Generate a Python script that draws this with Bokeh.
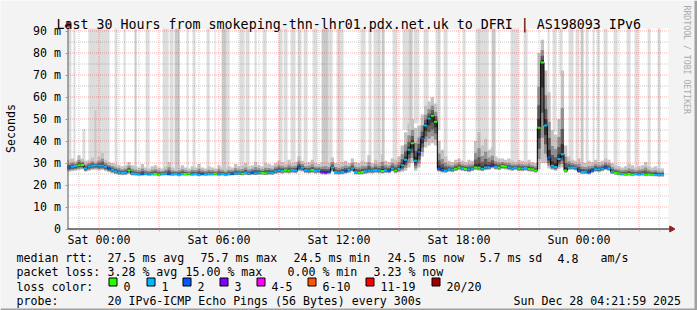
import math
from bokeh.plotting import figure
from bokeh.models import FixedTicker, Label
from bokeh.embed import file_html
from bokeh.resources import INLINE

# ---------------- data ----------------
START_H = -1.5          # first sample, hours relative to Sat 00:00
STEP_H = 1.0 / 6.0      # 10-minute samples

median_ms = [
    28.0, 28.3, 28.6, 29.0, 29.1, 27.6, 28.4, 28.8, 29.0, 28.7, 28.9, 28.3, 27.5, 26.9, 26.3, 25.8, 25.5, 25.7, 26.6, 25.3,
    25.0, 24.9, 25.0, 25.1, 24.9, 25.0, 25.0, 24.8, 25.0, 25.1, 25.0, 24.9, 25.0, 24.8, 25.0, 25.0, 25.1, 24.9, 25.0, 24.8,
    25.0, 24.9, 25.0, 25.0, 25.1, 24.9, 25.0, 24.8, 25.0, 25.1,
    25.2, 25.3, 25.1, 25.4, 25.2, 25.5, 25.3, 25.6, 25.4, 25.3, 25.6, 25.5,
    26.2, 26.6, 26.4, 26.7, 26.5, 26.8, 26.6, 28.0, 27.8, 26.7, 26.5, 26.8, 26.4, 26.6, 25.9, 25.7, 26.0, 28.0, 25.9, 25.7,
    25.9, 26.3, 26.9, 27.6, 25.9, 25.7, 25.9, 26.2, 26.6, 26.5, 26.8, 26.6, 26.4, 26.7, 26.6, 27.5, 26.6,
    27.3, 29.0, 31.5, 36.0, 39.0, 31.0, 35.0, 41.0, 47.0, 50.2, 51.5, 48.8, 27.4,
    26.8, 26.6, 27.2, 26.9, 27.4, 28.0, 27.6, 27.3, 27.0, 27.5, 28.0, 27.8, 27.4, 27.9, 28.1, 28.8, 28.2, 28.0, 28.6, 28.4,
    27.9, 27.6, 28.0, 27.5, 27.4, 27.7, 27.3, 27.2, 26.6,
    46.0, 75.7, 47.0, 32.5, 28.8, 28.2, 31.8, 34.0, 26.6,
    28.0, 28.1, 27.8, 26.5, 25.9, 26.0, 25.8, 26.6, 27.2, 27.0, 27.4, 28.0, 27.6, 26.0, 25.5, 25.2, 25.0, 24.9, 25.0, 24.8,
    25.0, 24.9, 25.0, 24.8, 24.9, 24.7, 24.6, 24.5, 24.5,
]

loss_count = [
    2, 1, 1, 0, 0, 1, 1, 1, 1, 1, 1, 1, 2, 1, 1, 1, 1, 1, 0, 1,
    1, 1, 2, 1, 1, 1, 0, 0, 1, 1, 2, 1, 1, 1, 1, 0, 0, 1, 1, 1, 2, 1, 1, 1, 0, 1, 1, 1, 1, 2,
    1, 1, 0, 1, 1, 2, 1, 1, 0, 0, 1, 1,
    1, 1, 1, 0, 0, 1, 1, 2, 1, 1, 1, 0, 1, 1, 3, 3, 2, 1, 1, 1, 1, 2, 1, 1, 1, 0, 0, 1, 1, 1, 1, 1, 0, 1, 2, 1, 0,
    1, 1, 1, 1, 0, 1, 2, 2, 1, 1, 0, 0, 2,
    2, 1, 1, 1, 0, 0, 1, 0, 1, 1, 0, 0, 1, 1, 1, 3, 1, 0, 0, 0, 1, 1, 1, 0, 1, 1, 0, 0, 0,
    0, 0, 1, 2, 1, 1, 1, 1, 0,
    1, 1, 1, 2, 1, 1, 2, 2, 1, 1, 1, 2, 1, 1, 0, 0, 1, 0, 0, 0, 1, 1, 1, 0, 0, 0, 1, 1, 1,
]

smoke_high = [
    31.5, 32.0, 31.0, 33.5, 32.0, 31.0, 31.5, 32.5, 31.0, 33.0, 34.5, 31.5, 30.5, 30.0, 29.5, 29.0, 28.5, 29.0, 30.5, 29.0,
    28.5, 28.0, 29.5, 28.0, 27.5, 28.5, 29.0, 28.0, 27.5, 28.5, 30.5, 28.0, 27.5, 28.0, 29.0, 28.0, 27.5, 28.5, 28.0, 29.5,
    28.0, 27.5, 28.5, 28.0, 27.5, 29.0, 28.0, 27.5, 28.5, 28.0,
    29.5, 28.5, 29.0, 30.0, 28.5, 29.0, 30.5, 29.0, 28.5, 30.0, 29.5, 29.0,
    30.0, 31.0, 30.5, 29.5, 31.5, 30.0, 30.5, 33.0, 31.0, 30.0, 30.5, 31.5, 30.0, 29.5, 30.5, 31.0, 30.0, 32.5, 30.0, 29.5,
    30.5, 31.0, 30.0, 32.0, 30.5, 30.0, 31.0, 30.5, 33.5, 30.0, 31.5, 30.5, 34.0, 31.0, 30.5, 32.0, 31.5,
    33.0, 38.0, 44.0, 48.0, 50.0, 46.0, 47.0, 52.0, 56.0, 58.0, 60.0, 57.0, 40.0,
    36.0, 33.0, 31.0, 30.5, 31.5, 32.0, 31.0, 30.5, 31.5, 31.0, 40.0, 44.0, 38.0, 41.0, 36.0, 37.0, 33.0, 32.0, 32.0, 31.5,
    32.0, 31.0, 30.5, 31.5, 31.0, 30.5, 31.5, 30.5, 30.0,
    80.0, 86.0, 72.0, 62.0, 45.0, 43.0, 50.0, 72.0, 38.0,
    33.0, 31.5, 31.0, 32.0, 30.5, 30.0, 31.0, 30.5, 31.5, 30.5, 31.0, 32.0, 31.5, 30.0, 29.0, 28.5, 28.0, 28.5, 29.5, 29.0,
    28.0, 28.5, 29.0, 30.5, 28.5, 28.0, 28.5, 27.5, 27.5,
]

smoke_low = [
    26.0, 26.3, 26.5, 26.8, 27.0, 26.0, 26.4, 26.8, 27.0, 26.6, 26.8, 26.3, 25.8, 25.3, 24.9, 24.6, 24.4, 24.5, 25.0, 24.3,
    24.2, 24.1, 24.2, 24.3, 24.1, 24.2, 24.2, 24.0, 24.2, 24.3, 24.2, 24.1, 24.2, 24.0, 24.2, 24.2, 24.3, 24.1, 24.2, 24.0,
    24.2, 24.1, 24.2, 24.2, 24.3, 24.1, 24.2, 24.0, 24.2, 24.3,
    24.4, 24.5, 24.3, 24.6, 24.4, 24.6, 24.5, 24.7, 24.6, 24.5, 24.7, 24.6,
    25.0, 25.3, 25.1, 25.4, 25.2, 25.5, 25.3, 26.2, 26.0, 25.4, 25.2, 25.5, 25.1, 25.3, 24.8, 24.7, 24.9, 26.0, 24.8, 24.7,
    24.8, 25.1, 25.5, 26.0, 24.8, 24.7, 24.8, 25.0, 25.3, 25.2, 25.5, 25.3, 25.1, 25.4, 25.3, 26.0, 25.3,
    25.8, 26.0, 26.5, 28.0, 30.0, 26.5, 28.0, 33.0, 37.0, 38.0, 39.0, 38.0, 26.0,
    25.6, 25.5, 26.0, 25.8, 26.2, 26.8, 26.4, 26.1, 25.8, 26.3, 26.8, 26.6, 26.2, 26.7, 26.9, 27.5, 27.0, 26.8, 27.3, 27.1,
    26.7, 26.4, 26.8, 26.3, 26.2, 26.5, 26.1, 26.0, 25.6,
    27.0, 30.0, 30.0, 27.5, 26.8, 26.5, 27.5, 28.0, 25.6,
    26.8, 26.9, 26.6, 25.5, 24.9, 25.0, 24.8, 25.5, 26.0, 25.8, 26.2, 26.8, 26.4, 25.0, 24.6, 24.3, 24.2, 24.1, 24.2, 24.0,
    24.2, 24.1, 24.2, 24.0, 24.1, 24.0, 23.9, 23.8, 23.8,
]

# columns of pings above the graph (hours relative to Sat 00:00)
offscale_start_h = [-1.53, -1.28, -0.53, -0.83, -0.23, 0.78, 1.23, 1.78, 2.33, 3.18, 3.53, 3.78, 4.38, 4.68, 5.38, 5.78,
                    6.13, 6.38, 7.03, 7.33, 7.78, 8.18, 8.98, 9.23, 9.58, 9.93, 10.23, 10.68, 11.13, 11.48, 11.88,
                    13.08, 13.48, 13.73, 14.13, 14.68, 15.18, 15.48, 15.73, 16.23, 16.83, 17.23, 18.18, 18.83, 19.63,
                    20.58, 21.23, 22.43, 22.68, 23.03, 23.48, 23.83, 24.08, 24.33, 24.68, 24.88, 25.23, 25.73, 26.38,
                    26.78, 27.43, 27.93]
offscale_end_h = [-1.38, -1.18, 0.53, -0.68, -0.13, 0.93, 1.33, 1.88, 2.53, 3.48, 3.73, 4.03, 4.48, 4.83, 5.53, 5.83,
                  6.38, 6.53, 7.28, 7.53, 7.88, 8.38, 9.18, 9.43, 9.83, 10.13, 10.43, 10.93, 11.48, 11.68, 12.23,
                  13.33, 13.63, 14.08, 14.28, 14.93, 15.48, 15.68, 15.98, 16.48, 17.08, 17.43, 18.33, 19.48, 19.83,
                  20.98, 21.43, 22.53, 22.88, 23.18, 23.73, 23.98, 24.23, 24.48, 24.78, 25.03, 25.43, 25.93, 26.58,
                  26.98, 27.58, 28.08]
offscale_dark = [0, 0, 0, 0, 1, 0, 0, 1, 0, 0, 0, 1, 0, 0, 0, 0,
                 1, 0, 0, 0, 0, 0, 0, 0, 0, 0, 0, 0, 1, 0, 0,
                 0, 0, 0, 1, 0, 0, 1, 0, 0, 0, 0, 0, 0, 1,
                 0, 0, 0, 0, 0, 0, 0, 1, 0, 0, 0, 0, 0, 0,
                 0, 0, 0]
offscale_from_ms = [27, 27, 27, 27, 27, 27, 27, 27, 27, 27, 27, 27, 27, 27, 27, 27,
                    27, 27, 27, 27, 27, 27, 27, 27, 27, 27, 27, 27, 27, 27, 27,
                    27, 27, 27, 27, 27, 45, 47, 48, 55, 45, 30, 27, 28, 28,
                    28, 28, 60, 44, 70, 28, 28, 28, 28, 28, 28, 28, 27, 27,
                    27, 27, 27]
offscale_to_ms = [999, 999, 999, 45.5, 54, 999, 999, 999, 999, 999, 999, 999, 999, 999, 999, 999,
                  999, 999, 999, 999, 999, 999, 999, 999, 999, 999, 999, 999, 999, 999, 999,
                  999, 999, 999, 999, 999, 999, 999, 999, 999, 999, 999, 999, 999, 999,
                  999, 999, 999, 999, 999, 999, 999, 999, 999, 999, 999, 999, 999, 999,
                  999, 999, 999]

loss_labels = ["0", "1", "2", "3", "4-5", "6-10", "11-19", "20/20"]
loss_colors = ["#26ff00", "#00b8ff", "#0059ff", "#7e00ff", "#ff00ff", "#ff5500", "#ff0000", "#a10000"]

x_tick_hours = [0, 6, 12, 18, 24]
x_tick_labels = ["Sat 00:00", "Sat 06:00", "Sat 12:00", "Sat 18:00", "Sun 00:00"]
y_tick_values = [0, 10, 20, 30, 40, 50, 60, 70, 80, 90]
y_tick_labels = ["0", "10 m", "20 m", "30 m", "40 m", "50 m", "60 m", "70 m", "80 m", "90 m"]

title_text = "Last 30 Hours from smokeping-thn-lhr01.pdx.net.uk to DFRI | AS198093 IPv6"
rtt_texts = ["median rtt:", "27.5 ms avg", "75.7 ms max", "24.5 ms min", "24.5 ms now", "5.7 ms sd", "4.8", "am/s"]
loss_texts = ["packet loss:", "3.28 % avg", "15.00 % max", "0.00 % min", "3.23 % now"]
probe_texts = ["probe:", "20 IPv6-ICMP Echo Pings (56 Bytes) every 300s", "Sun Dec 28 04:21:59 2025"]

n = len(median_ms)
assert len(loss_count) == n and len(smoke_high) == n and len(smoke_low) == n

# ---------------- layout helpers (pixel -> data) ----------------
PX0, PXH = 98.5, 20.0     # x pixel of Sat 00:00, pixels per hour
PY0, PYM = 228.5, 2.2     # y pixel of 0 ms, pixels per ms


def X(px):
    return (px - PX0) / PXH


def Y(py):
    return (PY0 - py) / PYM


MONO = "DejaVu Sans Mono"
FS = "11.6px"
GRAPH_TOP = Y(28)
GRAPH_LEFT = X(67)
GRAPH_RIGHT = X(668)

# the frame covers the whole 697x310 canvas; axes are pinned with fixed_location
p = figure(width=697, height=310, title=None,
           x_range=(X(0), X(697)), y_range=(Y(310), Y(0)),
           output_backend="svg", toolbar_location=None,
           min_border_left=0, min_border_right=0, min_border_top=0, min_border_bottom=0)
p.background_fill_color = "#f3f3f3"
p.border_fill_color = "#f3f3f3"
p.outline_line_color = None
p.xgrid.grid_line_color = None
p.ygrid.grid_line_color = None

# image border shade (right / bottom)
p.quad(left=[X(694), X(0)], right=[X(697), X(697)], bottom=[Y(310), Y(310)], top=[Y(0), Y(308)],
       fill_color="#a0a0a0", line_color=None)

# white canvas
p.quad(left=[GRAPH_LEFT], right=[GRAPH_RIGHT], bottom=[0], top=[GRAPH_TOP],
       fill_color="#ffffff", line_color=None)

# off-scale ping columns
p.quad(left=offscale_start_h, right=offscale_end_h,
       bottom=offscale_from_ms, top=[min(t, GRAPH_TOP) for t in offscale_to_ms],
       fill_color=["#c9c9c9" if d else "#dddddd" for d in offscale_dark], line_color=None)

# smoke
times = [START_H + i * STEP_H for i in range(n)]
lefts = [t - STEP_H / 2 for t in times]
rights = [t + STEP_H / 2 for t in times]
layers = [(1.0, 1.0, "#c4c4c4"), (0.75, 0.55, "#929292"), (0.5, 0.3, "#5e5e5e"), (0.25, 0.12, "#333333")]
for fdown, fup, col in layers:
    bot = [m - fdown * (m - lo) for m, lo in zip(median_ms, smoke_low)]
    top = [min(m + fup * (hi - m), GRAPH_TOP) for m, hi in zip(median_ms, smoke_high)]
    p.quad(left=lefts, right=rights, bottom=bot, top=top, fill_color=col, line_color=None)

# grid
vx_minor = [h for h in range(-1, 29) if h % 3 != 0]
vx_major = [h for h in range(-1, 29) if h % 3 == 0]
p.segment(x0=vx_minor, x1=vx_minor, y0=[0] * len(vx_minor), y1=[GRAPH_TOP] * len(vx_minor),
          line_color="#000000", line_alpha=0.2, line_width=1, line_dash="1 1")
p.segment(x0=vx_major, x1=vx_major, y0=[0] * len(vx_major), y1=[GRAPH_TOP] * len(vx_major),
          line_color="#ff0000", line_alpha=0.33, line_width=1, line_dash="1 1")
hy_minor = [v for v in range(5, 91, 10)]
hy_major = [v for v in range(10, 91, 10)]
p.segment(x0=[X(67.5)] * len(hy_minor), x1=[GRAPH_RIGHT] * len(hy_minor), y0=hy_minor, y1=hy_minor,
          line_color="#000000", line_alpha=0.2, line_width=1, line_dash="1 1")
p.segment(x0=[X(67.5)] * len(hy_major), x1=[GRAPH_RIGHT] * len(hy_major), y0=hy_major, y1=hy_major,
          line_color="#ff0000", line_alpha=0.33, line_width=1, line_dash="1 1")

# median line coloured by loss
p.step(x=times, y=median_ms, mode="center", line_color="#000000", line_width=1)
p.segment(x0=lefts, x1=rights, y0=median_ms, y1=median_ms,
          line_color=[loss_colors[c] for c in loss_count], line_width=2)

# axis lines and arrows
p.segment(x0=[X(67.5)], x1=[X(67.5)], y0=[0], y1=[Y(23)], line_color="#555555", line_width=1)
p.segment(x0=[X(67.5)], x1=[X(670)], y0=[0], y1=[0], line_color="#000000", line_width=1)
p.scatter(x=[X(67.5)], y=[Y(24)], marker="triangle", size=6, fill_color="#9b1c1c", line_color="#9b1c1c")
p.scatter(x=[X(671)], y=[0], marker="triangle", angle=-math.pi / 2, size=6,
          fill_color="#9b1c1c", line_color="#9b1c1c")

# axes (pinned to the graph edges)
xa = p.xaxis[0]
xa.fixed_location = 0
xa.ticker = FixedTicker(ticks=x_tick_hours, minor_ticks=list(range(-1, 29)))
xa.major_label_overrides = {h: s for h, s in zip(x_tick_hours, x_tick_labels)}
xa.axis_line_color = None
xa.major_tick_out = 3
xa.major_tick_in = 0
xa.minor_tick_out = 2
xa.minor_tick_in = 0
xa.major_tick_line_color = "#999999"
xa.minor_tick_line_color = "#bbbbbb"
xa.major_label_standoff = 1
xa.major_label_text_font = MONO
xa.major_label_text_font_size = FS
xa.major_label_text_color = "#000000"

ya = p.yaxis[0]
ya.fixed_location = X(67.5)
ya.ticker = FixedTicker(ticks=y_tick_values)
ya.major_label_overrides = {v: s for v, s in zip(y_tick_values, y_tick_labels)}
ya.axis_line_color = None
ya.major_tick_out = 3
ya.major_tick_in = 0
ya.minor_tick_line_color = None
ya.major_tick_line_color = "#999999"
ya.major_label_standoff = 4
ya.major_label_text_font = MONO
ya.major_label_text_font_size = FS
ya.major_label_text_color = "#000000"


def text(px, py, s, size=FS, color="#000000", align="left", baseline="alphabetic", angle=0.0):
    p.add_layout(Label(x=X(px), y=Y(py), text=s, text_font=MONO, text_font_size=size,
                       text_color=color, text_align=align, text_baseline=baseline, angle=angle))


# title, axis label, watermark
text(56, 24, title_text, size="13.3px")
text(10, 128, "Seconds", align="center", baseline="middle", angle=math.pi / 2)
text(686.5, 5, "RRDTOOL / TOBI OETIKER", size="8.2px", color="#aaaaaa", baseline="middle", angle=-math.pi / 2)

# legend rows
for s, px in zip(rtt_texts, [16, 107, 200, 293, 387, 479, 557, 600]):
    text(px, 257.5, s)
for s, px in zip(loss_texts, [16, 107, 185, 287, 373]):
    text(px, 271.8, s)
text(16, 286, "loss color:")
sq_x = [108, 146, 182, 219, 256, 307, 365, 431]
p.quad(left=[X(px + 0.5) for px in sq_x], right=[X(px + 8.5) for px in sq_x],
       bottom=[Y(285.5)] * len(sq_x), top=[Y(277.5)] * len(sq_x),
       fill_color=loss_colors, line_color="#000000", line_width=1)
for lab, px in zip(loss_labels, sq_x):
    text(px + 15, 286, lab)
for s, px in zip(probe_texts, [16, 107, 513]):
    text(px, 300.2, s)

open("out.html", "w").write(file_html(p, INLINE))
